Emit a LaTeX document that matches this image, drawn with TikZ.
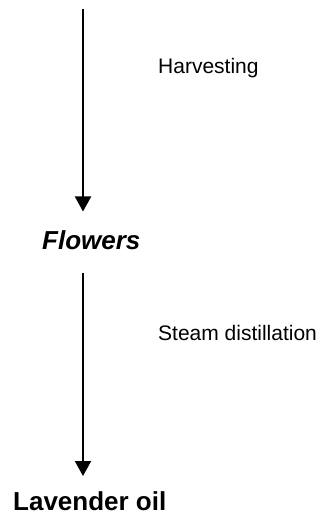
\documentclass[tikz,border=0pt]{standalone}
\usepackage{fontspec}
\setmainfont{Liberation Sans}
\usetikzlibrary{arrows.meta}
\begin{document}
\begin{tikzpicture}[x=1pt,y=-1pt,
  lbl/.style={anchor=base west,inner sep=0pt,font=\fontsize{21}{25}\selectfont},
  prod/.style={anchor=base west,inner sep=0pt,font=\fontsize{26}{30}\selectfont\bfseries},
  flow/.style={line width=2pt,-{Triangle[width=16pt,length=15pt]}}]
\useasboundingbox (0,0) rectangle (321,521);
\node[prod,font=\fontsize{26}{30}\selectfont\bfseries\itshape] (flowers) at (42,249) {Flowers};
\node[prod] (oil) at (13,510) {Lavender oil};
\node[lbl] (harv) at (158,73.3) {Harvesting};
\node[lbl] (steam) at (158,340) {Steam distillation};
\coordinate (a1s) at (83,9);
\coordinate (a1e) at (83,211.5);
\coordinate (a2s) at (83,272.5);
\coordinate (a2e) at (83,476);
\draw[flow] (a1s) -- (a1e);
\draw[flow] (a2s) -- (a2e);
\end{tikzpicture}
\end{document}
